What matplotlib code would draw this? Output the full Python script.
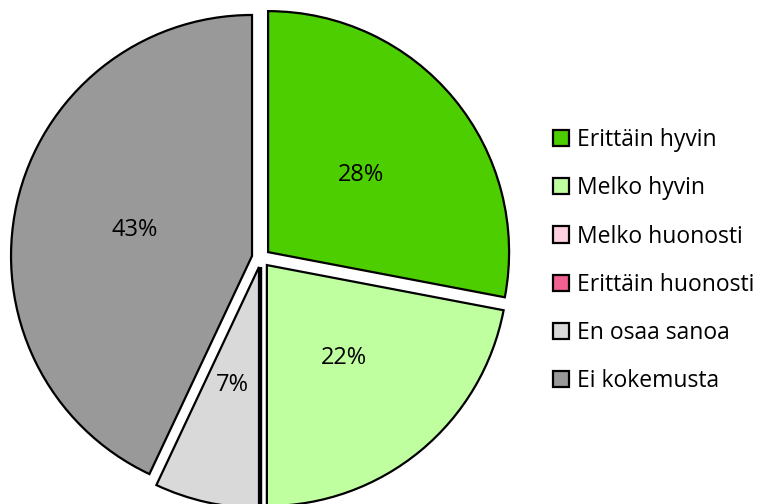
import matplotlib
matplotlib.use('Agg')
import numpy as np
import matplotlib.pyplot as plt
from matplotlib.patches import Patch

# data
labels = ['Erittäin hyvin', 'Melko hyvin', 'Melko huonosti',
          'Erittäin huonosti', 'En osaa sanoa', 'Ei kokemusta']
values = [28, 22, 0, 0, 7, 43]
colors = ['#4CCE00', '#C0FFA0', '#FFD0E0', '#F06090', '#D9D9D9', '#999999']

plt.rcParams['font.family'] = ['Open Sans', 'DejaVu Sans']

# pixel geometry (axes spans the whole figure, 1 data unit = 1 px)
CX, CY, R, EXP = 261, 246, 241, 9.2
FS = 16.5

fig = plt.figure(figsize=(7.6, 5.04), dpi=100)
ax = fig.add_axes([0, 0, 1, 1])

ax.pie(values, colors=colors, startangle=90, counterclock=False,
       explode=[EXP] * len(values), radius=R, center=(CX, CY),
       wedgeprops={'edgecolor': 'black', 'linewidth': 1.6})

# pie() resets the limits, so set them afterwards
ax.set_xlim(0, 760)
ax.set_ylim(0, 504)
ax.set_aspect('equal')
ax.axis('off')

# percent labels
total = sum(values)
ang = 90.0
for v in values:
    span = 360.0 * v / total
    mid = np.deg2rad(ang - span / 2)
    ang -= span
    if v == 0:
        continue
    r = R * 0.5 + EXP
    ax.text(CX + r * np.cos(mid), CY + r * np.sin(mid), '%d%%' % round(100.0 * v / total),
            ha='center', va='center', fontsize=FS + 0.5, color='black')

handles = [Patch(facecolor=c, edgecolor='black', linewidth=1.6, label=l)
           for c, l in zip(colors, labels)]
fig.legend(handles=handles, loc='center left', bbox_to_anchor=(0.7276, 0.483),
           frameon=False, fontsize=FS, handlelength=0.7, handleheight=0.7,
           handletextpad=0.35, labelspacing=1.05, borderpad=0, borderaxespad=0)

fig.savefig('out.png', dpi=100)
